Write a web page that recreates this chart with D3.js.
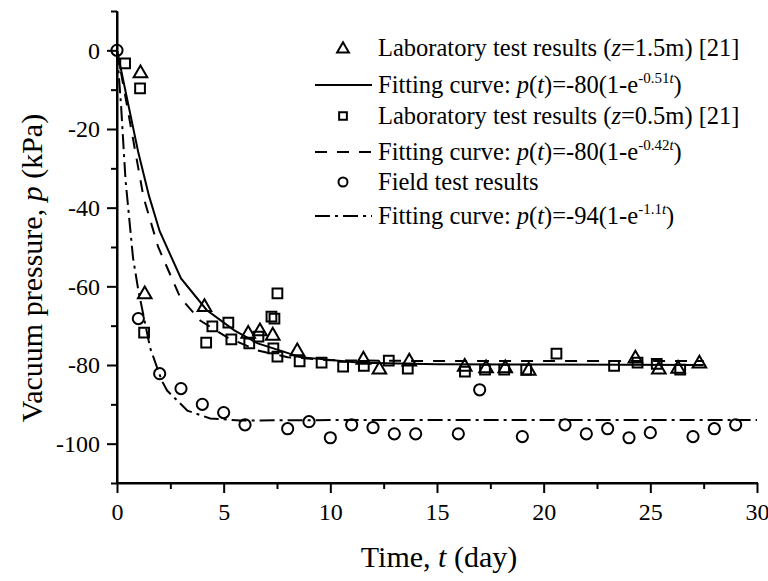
<!DOCTYPE html>
<html><head><meta charset="utf-8">
<script src="https://cdn.jsdelivr.net/npm/d3@7"></script>
<style>
body{margin:0;background:#fff}
svg{display:block}
text{font-family:"Liberation Serif","Times New Roman",serif;fill:#000}
</style>
</head><body>
<svg id="chart" width="768" height="581"></svg>
<script>
// ---- data (t in days, p in kPa) ----
const labZ15 = [[1.1,-5.6],[1.3,-61.8],[4.1,-65],[6.15,-71.8],[6.7,-71.2],[7.3,-72.3],[8.45,-76.3],
  [11.55,-78.4],[12.3,-80.9],[13.7,-78.9],[16.3,-80.2],[17.3,-80.6],[18.2,-80.6],[19.3,-81.2],
  [24.3,-78.1],[25.4,-80.9],[26.3,-80.7],[27.3,-79.4]];
const labZ05 = [[0.38,-3.3],[1.08,-9.7],[1.27,-71.8],[4.18,-74.3],[4.47,-70.2],[5.22,-69.2],[5.36,-73.5],
  [6.2,-74.5],[6.63,-72.8],[7.24,-67.7],[7.38,-68.2],[7.52,-61.8],[7.33,-75.8],[7.52,-77.9],[8.56,-79.1],
  [9.59,-79.4],[10.6,-80.4],[11.57,-80.2],[12.74,-78.9],[13.63,-80.9],[16.31,-81.7],[17.25,-81.2],
  [18.15,-81.2],[19.18,-81.2],[20.6,-77.1],[23.3,-80.2],[24.4,-79.4],[25.3,-79.7],[26.4,-81.2]];
const field = [[0,0],[1,-68.2],[2,-82.2],[3,-86],[4,-90],[5,-92.1],[6,-95.2],[8,-96.2],[9,-94.4],
  [10,-98.5],[11,-95.2],[12,-95.9],[13,-97.5],[14,-97.5],[16,-97.5],[17,-86.3],[19,-98.2],[21,-95.2],
  [22,-97.5],[23,-96.2],[24,-98.5],[25,-97.2],[27,-98.2],[28,-96.2],[29,-95.2]];
// fitting curves
const fitZ15 = [[0,0],[0.5,-13],[1,-26],[1.5,-37],[2,-46],[3,-58],[4.2,-66],[5.5,-71.2],[6.6,-74.5],
  [8.6,-78],[11.4,-79.4],[15,-79.8],[20,-79.9],[27.5,-80]];
const fitZ05 = [[0,0],[0.5,-15],[1.25,-37.5],[1.93,-50],[2.96,-62.8],[3.9,-68.7],[5.17,-73],[6.58,-76.3],
  [8,-78],[10,-78.8],[15,-79],[27.5,-79]];
const fitField = [[0,0],[0.19,-14],[0.4,-33],[0.75,-52.7],[1.0,-61],[1.55,-75.6],[2.1,-84],[2.35,-86.5],
  [3.3,-91.6],[4.37,-93.6],[5.78,-94.1],[10,-94],[30,-94]];
// ticks
const xMajor = [0,5,10,15,20,25,30];
const xMinor = [2.5,7.5,12.5,17.5,22.5,27.5];
const yMajor = [-100,-80,-60,-40,-20,0];
const yMinor = [-110,-90,-70,-50,-30,-10,10];

// ---- layout ----
const FONT = '"Liberation Serif","Times New Roman",serif';
const svg = d3.select("#chart");
const x = d3.scaleLinear().domain([0,30]).range([117,757]);
const y = d3.scaleLinear().domain([-110,10]).range([483,11]);

// axes
const axW = 2;
function styleAxis(g){
  g.attr("font-family",null).attr("font-size",null);
  g.select(".domain").attr("stroke","#000").attr("stroke-width",axW);
  g.selectAll(".tick line").attr("stroke","#000").attr("stroke-width",axW);
  g.selectAll(".tick text").style("font-family",FONT).style("font-size","24px").attr("fill","#000");
}
const gyMin = svg.append("g").attr("transform",`translate(${x(0)},0)`)
  .call(d3.axisLeft(y).tickValues(yMinor).tickSize(6).tickFormat("").tickSizeOuter(0));
styleAxis(gyMin);
const gy = svg.append("g").attr("transform",`translate(${x(0)},0)`)
  .call(d3.axisLeft(y).tickValues(yMajor).tickSize(10).tickPadding(7).tickFormat(d=>String(d)).tickSizeOuter(0));
styleAxis(gy);
const gxMin = svg.append("g").attr("transform",`translate(0,${y(-110)})`)
  .call(d3.axisBottom(x).tickValues(xMinor).tickSize(6).tickFormat("").tickSizeOuter(0));
styleAxis(gxMin);
const gx = svg.append("g").attr("transform",`translate(0,${y(-110)})`)
  .call(d3.axisBottom(x).tickValues(xMajor).tickSize(10).tickPadding(10).tickFormat(d=>String(d)).tickSizeOuter(0));
styleAxis(gx);
gx.select(".domain").attr("d",`M${x(0)-1},0H${x(30)+1}`);
gy.select(".domain").attr("d",`M0,${y(10)}V${y(-110)+1}`);

// axis titles
const xt = svg.append("text").attr("x",(x(0)+x(30))/2+2).attr("y",567).attr("text-anchor","middle").style("font-size","30px");
xt.append("tspan").text("Time, ");
xt.append("tspan").attr("font-style","italic").text("t");
xt.append("tspan").text(" (day)");
const yt = svg.append("text").attr("transform","translate(42,268) rotate(-90)").attr("text-anchor","middle").style("font-size","30px");
yt.append("tspan").text("Vacuum pressure, ");
yt.append("tspan").attr("font-style","italic").text("p");
yt.append("tspan").text(" (kPa)");

// curves
const line = d3.line().x(d=>x(d[0])).y(d=>y(d[1]));
const curveG = svg.append("g").attr("fill","none").attr("stroke","#000").attr("stroke-width",2);
curveG.append("path").attr("d",line(fitZ15));
curveG.append("path").attr("d",line(fitZ05)).attr("stroke-dasharray","12,10");
curveG.append("path").attr("d",line(fitField)).attr("stroke-dasharray","15,5,3,5");

// markers
const triSym = d3.symbol().type(d3.symbolTriangle).size(80);
const sqSym = d3.symbol().type(d3.symbolSquare).size(95);
const mk = svg.append("g").attr("fill","none").attr("stroke","#000").attr("stroke-width",2);
mk.selectAll(".tri").data(labZ15).join("path").attr("class","tri")
  .attr("d",triSym).attr("transform",d=>`translate(${x(d[0])},${y(d[1])+1})`);
mk.selectAll(".sq").data(labZ05).join("path").attr("class","sq")
  .attr("d",sqSym).attr("transform",d=>`translate(${x(d[0])},${y(d[1])})`);
mk.selectAll(".ci").data(field).join("circle").attr("class","ci")
  .attr("cx",d=>x(d[0])).attr("cy",d=>y(d[1])).attr("r",5.6);

// legend
const legX = 378;
const rows = [
  {cy:48, kind:"tri", parts:[["Laboratory test results ("],["z","i"],["=1.5m) [21]"]]},
  {cy:85, kind:"solid", parts:[["Fitting curve: "],["p","i"],["("],["t","i"],[")=-80(1-e"],["-0.51","s"],["t","si"],[")"]]},
  {cy:116, kind:"sq", parts:[["Laboratory test results ("],["z","i"],["=0.5m) [21]"]]},
  {cy:152, kind:"dash", parts:[["Fitting curve: "],["p","i"],["("],["t","i"],[")=-80(1-e"],["-0.42","s"],["t","si"],[")"]]},
  {cy:182, kind:"ci", parts:[["Field test results"]]},
  {cy:216, kind:"dashdot", parts:[["Fitting curve: "],["p","i"],["("],["t","i"],[")=-94(1-e"],["-1.1","s"],["t","si"],[")"]]}
];
const lg = svg.append("g");
rows.forEach(r=>{
  const s = lg.append("g").attr("fill","none").attr("stroke","#000").attr("stroke-width",2);
  if(r.kind==="tri") s.append("path").attr("d",d3.symbol().type(d3.symbolTriangle).size(60)()).attr("transform",`translate(343,${r.cy+1})`);
  if(r.kind==="sq") s.append("path").attr("d",d3.symbol().type(d3.symbolSquare).size(60)()).attr("transform",`translate(343,${r.cy})`);
  if(r.kind==="ci") s.append("circle").attr("cx",343).attr("cy",r.cy).attr("r",4.5);
  if(r.kind==="solid") s.append("line").attr("x1",315).attr("x2",372).attr("y1",r.cy).attr("y2",r.cy);
  if(r.kind==="dash") s.append("line").attr("x1",315).attr("x2",372).attr("y1",r.cy).attr("y2",r.cy).attr("stroke-dasharray","12,10");
  if(r.kind==="dashdot") s.append("line").attr("x1",315).attr("x2",372).attr("y1",r.cy).attr("y2",r.cy).attr("stroke-dasharray","15,5,3,5");
  const t = lg.append("text").attr("x",legX).attr("y",r.cy+8).style("font-size","24.5px");
  let raised=false;
  r.parts.forEach(p=>{
    const ts = t.append("tspan").text(p[0]);
    const f = p[1]||"";
    if(f.includes("i")) ts.attr("font-style","italic");
    if(f.includes("s")){ ts.style("font-size","15px"); if(!raised){ts.attr("dy",-10); raised=true;} }
    else if(raised){ ts.attr("dy",10); raised=false; }
  });
});
</script>
</body></html>
